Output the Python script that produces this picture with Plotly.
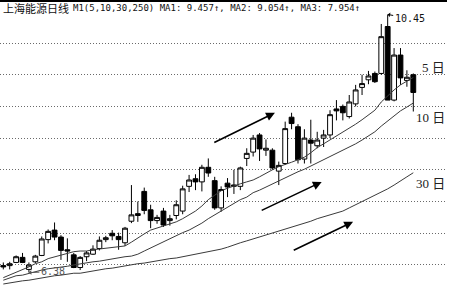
import plotly.graph_objects as go

# ---------------- data ----------------
idx = list(range(65))
open_ = [6.49, 6.49, 6.54, 6.62, 6.43, 6.55, 6.65, 6.90, 7.05, 6.94,
         6.74, 6.66, 6.46, 6.63, 6.67, 6.76, 6.90, 7.00, 6.95, 6.85,
         7.19, 7.28, 7.66, 7.37, 7.20, 7.35, 7.20, 7.28, 7.35, 7.74,
         7.86, 7.81, 8.04, 7.83, 7.40, 7.79, 7.74, 7.74, 8.18, 8.28,
         8.55, 8.31, 8.31, 7.98, 8.10, 8.83, 8.68, 8.17, 8.47, 8.38,
         8.50, 8.55, 8.96, 9.00, 8.84, 9.04, 9.30, 9.42, 9.52, 9.52,
         10.26, 9.10, 9.81, 9.41, 9.50]
high = [6.54, 6.55, 6.65, 6.69, 6.54, 6.66, 6.95, 7.06, 7.17, 6.97,
        6.92, 6.69, 6.64, 6.72, 6.81, 6.95, 6.96, 7.05, 7.01, 7.10,
        7.76, 7.50, 7.72, 7.45, 7.29, 7.40, 7.29, 7.52, 7.75, 7.92,
        7.93, 8.08, 8.18, 7.89, 7.74, 7.87, 8.00, 8.05, 8.34, 8.55,
        8.58, 8.48, 8.34, 8.13, 8.76, 8.90, 8.72, 8.64, 8.79, 8.60,
        8.63, 8.94, 9.10, 9.03, 9.18, 9.34, 9.50, 9.56, 9.55, 10.30,
        10.45, 9.92, 9.92, 9.57, 9.52]
low = [6.43, 6.43, 6.53, 6.53, 6.38, 6.53, 6.64, 6.84, 6.89, 6.58,
       6.55, 6.45, 6.42, 6.56, 6.66, 6.73, 6.86, 6.89, 6.74, 6.80,
       7.16, 7.18, 7.30, 7.08, 7.15, 7.10, 7.12, 7.22, 7.30, 7.65,
       7.68, 7.66, 7.89, 7.37, 7.34, 7.57, 7.62, 7.68, 8.06, 8.21,
       8.14, 8.22, 8.00, 7.76, 8.08, 8.64, 8.10, 8.10, 8.10, 8.34,
       8.36, 8.50, 8.78, 8.78, 8.81, 9.00, 9.18, 9.35, 9.37, 9.50,
       9.10, 9.08, 9.34, 9.31, 8.92]
close = [6.47, 6.52, 6.63, 6.54, 6.50, 6.64, 6.91, 7.03, 6.94, 6.73,
         6.72, 6.46, 6.62, 6.69, 6.75, 6.89, 6.93, 6.96, 6.90, 7.08,
         7.29, 7.31, 7.36, 7.20, 7.25, 7.13, 7.23, 7.45, 7.70, 7.84,
         7.81, 8.04, 7.95, 7.40, 7.69, 7.73, 7.76, 8.03, 8.26, 8.50,
         8.33, 8.34, 8.03, 8.07, 8.65, 8.73, 8.16, 8.50, 8.42, 8.47,
         8.55, 8.87, 8.93, 8.90, 9.07, 9.26, 9.36, 9.48, 9.39, 10.10,
         9.10, 9.81, 9.45, 9.46, 9.22]

ma5 = [6.30, 6.34, 6.39, 6.42, 6.47, 6.52, 6.55, 6.60, 6.63, 6.66,
       6.69, 6.71, 6.72, 6.72, 6.74, 6.75, 6.77, 6.77, 6.78, 6.80,
       6.86, 6.93, 6.99, 7.05, 7.08, 7.12, 7.15, 7.18, 7.23, 7.29,
       7.35, 7.43, 7.53, 7.60, 7.67, 7.71, 7.75, 7.78, 7.81, 7.84,
       7.89, 7.95, 8.00, 8.05, 8.08, 8.12, 8.16, 8.20, 8.27, 8.35,
       8.41, 8.47, 8.53, 8.60, 8.66, 8.72, 8.79, 8.87, 8.94, 9.07,
       9.17, 9.26, 9.34, 9.40, 9.457]
ma10 = [6.26, 6.30, 6.33, 6.34, 6.37, 6.39, 6.42, 6.44, 6.45, 6.47,
        6.48, 6.50, 6.52, 6.53, 6.55, 6.56, 6.58, 6.60, 6.61, 6.63,
        6.64, 6.67, 6.72, 6.77, 6.82, 6.86, 6.91, 6.96, 7.01, 7.05,
        7.10, 7.16, 7.23, 7.29, 7.35, 7.41, 7.48, 7.53, 7.57, 7.64,
        7.68, 7.73, 7.78, 7.82, 7.87, 7.92, 7.97, 8.01, 8.06, 8.11,
        8.16, 8.20, 8.25, 8.31, 8.36, 8.41, 8.47, 8.53, 8.60, 8.69,
        8.77, 8.85, 8.93, 8.99, 9.054]
ma30 = [6.20, 6.22, 6.23, 6.25, 6.26, 6.28, 6.30, 6.31, 6.33, 6.34,
        6.36, 6.37, 6.37, 6.39, 6.41, 6.42, 6.44, 6.45, 6.47, 6.48,
        6.50, 6.52, 6.53, 6.55, 6.56, 6.58, 6.60, 6.61, 6.63, 6.64,
        6.66, 6.68, 6.71, 6.73, 6.75, 6.78, 6.82, 6.85, 6.88, 6.91,
        6.94, 6.97, 7.01, 7.04, 7.07, 7.10, 7.13, 7.16, 7.19, 7.23,
        7.26, 7.29, 7.32, 7.35, 7.40, 7.45, 7.49, 7.54, 7.59, 7.64,
        7.70, 7.76, 7.82, 7.89, 7.954]

grid_levels = [6.5, 7.0, 7.5, 8.0, 8.5, 9.0, 9.5, 10.0]
title_cn = "上海能源日线"
title_ma = "M1(5,10,30,250) MA1: 9.457↑, MA2: 9.054↑, MA3: 7.954↑"
high_label = "10.45"
low_label = "6.38"
ma_labels = ["5 日", "10 日", "30 日"]
ma_label_values = [9.62, 8.83, 7.79]
# trend arrows: (tail index, tail price, head index, head price)
trend_arrows = [(32.7, 8.42, 42.4, 8.90),
                (40.1, 7.35, 49.7, 7.81),
                (45.1, 6.72, 54.6, 7.18)]

# ---------------- figure ----------------
fig = go.Figure()
fig.add_trace(go.Candlestick(
    x=idx, open=open_, high=high, low=low, close=close,
    increasing=dict(line=dict(color="#000000", width=1), fillcolor="#ffffff"),
    decreasing=dict(line=dict(color="#000000", width=1), fillcolor="#000000"),
    whiskerwidth=0, hoverinfo="skip", showlegend=False))

for ma in (ma5, ma10, ma30):
    fig.add_trace(go.Scatter(x=idx, y=ma, mode="lines",
                             line=dict(color="#3a3a3a", width=1),
                             hoverinfo="skip", showlegend=False))

ann = []
mono = "DejaVu Sans Mono, monospace"
ann.append(dict(xref="paper", yref="paper", x=0, y=1 - 8 / 288, xshift=1,
                xanchor="left", yanchor="middle", showarrow=False,
                text=title_cn, font=dict(family="Noto Sans CJK SC", size=11, color="#111")))
ann.append(dict(xref="paper", yref="paper", x=0, y=1 - 8 / 288, xshift=71,
                xanchor="left", yanchor="middle", showarrow=False,
                text=title_ma, font=dict(family=mono, size=9, color="#111")))
for lab, v in zip(ma_labels, ma_label_values):
    ann.append(dict(xref="paper", yref="y", x=1, y=v, xanchor="right", yanchor="middle",
                    showarrow=False, text=lab,
                    font=dict(family="Liberation Serif, Noto Sans CJK SC", size=13, color="#222")))
ann.append(dict(x=60, y=max(high), text=high_label, showarrow=True, ax=22, ay=4,
                arrowhead=1, arrowsize=0.8, arrowwidth=1, arrowcolor="#000",
                font=dict(family=mono, size=10, color="#111")))
ann.append(dict(x=4, y=min(low), text=low_label, showarrow=True, ax=24, ay=-1,
                arrowhead=1, arrowsize=0.8, arrowwidth=1, arrowcolor="#555",
                font=dict(family=mono, size=10, color="#555")))
for tx, ty, hx, hy in trend_arrows:
    ann.append(dict(x=hx, y=hy, ax=tx, ay=ty, xref="x", yref="y", axref="x", ayref="y",
                    text="", showarrow=True, arrowhead=2, arrowsize=1.1,
                    arrowwidth=1.6, arrowcolor="#000"))

fig.update_layout(
    width=452, height=288,
    margin=dict(l=0, r=5, t=0, b=0),
    paper_bgcolor="#ffffff", plot_bgcolor="#ffffff",
    annotations=ann,
    boxgap=0.25, boxgroupgap=0,
    shapes=[dict(type="line", xref="paper", yref="paper", x0=0, x1=1,
                 y0=1 - 1 / 288, y1=1 - 1 / 288, line=dict(color="#000", width=2))],
    xaxis=dict(range=[-0.515, 69.26], visible=False, rangeslider=dict(visible=False),
               fixedrange=True),
    yaxis=dict(range=[6.137, 10.678], showticklabels=False, ticks="",
               tickvals=grid_levels, showgrid=True, gridcolor="#6a6a6a",
               griddash="1px,2px", gridwidth=1, zeroline=False, showline=False,
               fixedrange=True),
    hovermode=False,
)

fig.write_html("out.html")
